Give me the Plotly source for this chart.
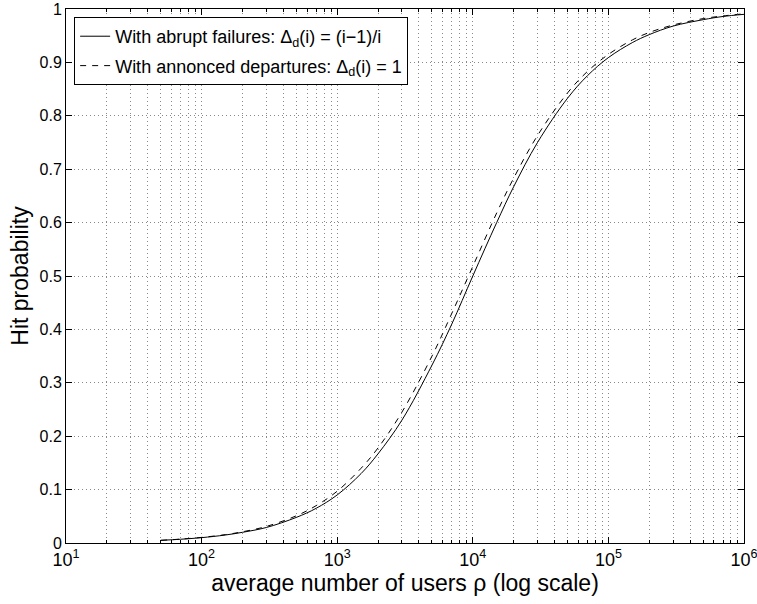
import plotly.graph_objects as go

rho = [50, 70, 100, 150, 200, 300, 500, 700, 1000, 1500, 2000, 3000, 5000, 7000,
       10000, 15000, 20000, 30000, 50000, 70000, 100000, 150000, 200000, 300000,
       500000, 700000, 1000000]
hit_abrupt = [0.005, 0.007, 0.010, 0.015, 0.020, 0.029, 0.048, 0.065, 0.090, 0.130,
              0.167, 0.230, 0.333, 0.410, 0.500, 0.600, 0.667, 0.750, 0.833, 0.875,
              0.909, 0.937, 0.952, 0.968, 0.980, 0.986, 0.990]
hit_announced = [0.005, 0.0073, 0.0105, 0.0157, 0.021, 0.031, 0.051, 0.070, 0.097, 0.140,
                 0.178, 0.245, 0.350, 0.430, 0.518, 0.618, 0.683, 0.763, 0.843, 0.883,
                 0.915, 0.942, 0.956, 0.970, 0.982, 0.987, 0.991]

x_major = [10, 100, 1000, 10000, 100000, 1000000]
x_major_text = ["10<sup>1</sup>", "10<sup>2</sup>", "10<sup>3</sup>", "10<sup>4</sup>",
                "10<sup>5</sup>", "10<sup>6</sup>"]
x_minor = [m * d for d in [10, 100, 1000, 10000, 100000] for m in range(2, 10)]
y_ticks = [0, 0.1, 0.2, 0.3, 0.4, 0.5, 0.6, 0.7, 0.8, 0.9, 1]
y_text = ["0", "0.1", "0.2", "0.3", "0.4", "0.5", "0.6", "0.7", "0.8", "0.9", "1"]

names = ["With abrupt failures: Δ<sub>d</sub>(i) = (i−1)/i",
         "With annonced departures: Δ<sub>d</sub>(i) = 1"]

fig = go.Figure()
fig.add_trace(go.Scatter(x=rho, y=hit_abrupt, mode="lines", name=names[0],
                         legendgroup="a",
                         line=dict(color="black", width=1, shape="spline")))
fig.add_trace(go.Scatter(x=rho, y=hit_announced, mode="lines", name=names[1],
                         legendgroup="b",
                         line=dict(color="black", width=1, dash="6px,6px", shape="spline")))

font = "Liberation Sans, Arial, Helvetica, sans-serif"
grid_col = "#8a8a8a"
fig.update_layout(
    template="none",
    width=757, height=604,
    margin=dict(l=66, r=13, t=9, b=61),
    paper_bgcolor="white", plot_bgcolor="white",
    font=dict(family=font, color="black", size=16),
    showlegend=True,
    legend=dict(x=0.012, y=0.985, xanchor="left", yanchor="top",
                bgcolor="white", bordercolor="black", borderwidth=1,
                font=dict(size=18), tracegroupgap=3, itemwidth=30),
    xaxis=dict(
        type="log", range=[1, 6], automargin=False, ticklabeloverflow="allow",
        tickmode="array", tickvals=x_major, ticktext=x_major_text,
        ticks="inside", ticklen=6, tickcolor="black", tickwidth=1,
        showline=True, linecolor="black", linewidth=1, mirror="ticks",
        showgrid=True, gridcolor=grid_col, griddash="1px,3px", gridwidth=1,
        zeroline=False, tickfont=dict(size=18),
        minor=dict(tickmode="array", tickvals=x_minor, ticks="inside", ticklen=3,
                   tickcolor="black", showgrid=True, gridcolor=grid_col,
                   griddash="1px,3px", gridwidth=1),
        title=dict(text="average number of users ρ (log scale)", font=dict(size=23),
                   standoff=2),
    ),
    yaxis=dict(
        range=[0, 1], automargin=False, ticklabeloverflow="allow",
        tickmode="array", tickvals=y_ticks, ticktext=y_text,
        ticks="inside", ticklen=6, tickcolor="black", tickwidth=1,
        showline=True, linecolor="black", linewidth=1, mirror="ticks",
        showgrid=True, gridcolor=grid_col, griddash="1px,3px", gridwidth=1,
        zeroline=False, tickfont=dict(size=16),
        title=dict(text="Hit probability", font=dict(size=23), standoff=4),
    ),
)

fig.write_html("out.html")
